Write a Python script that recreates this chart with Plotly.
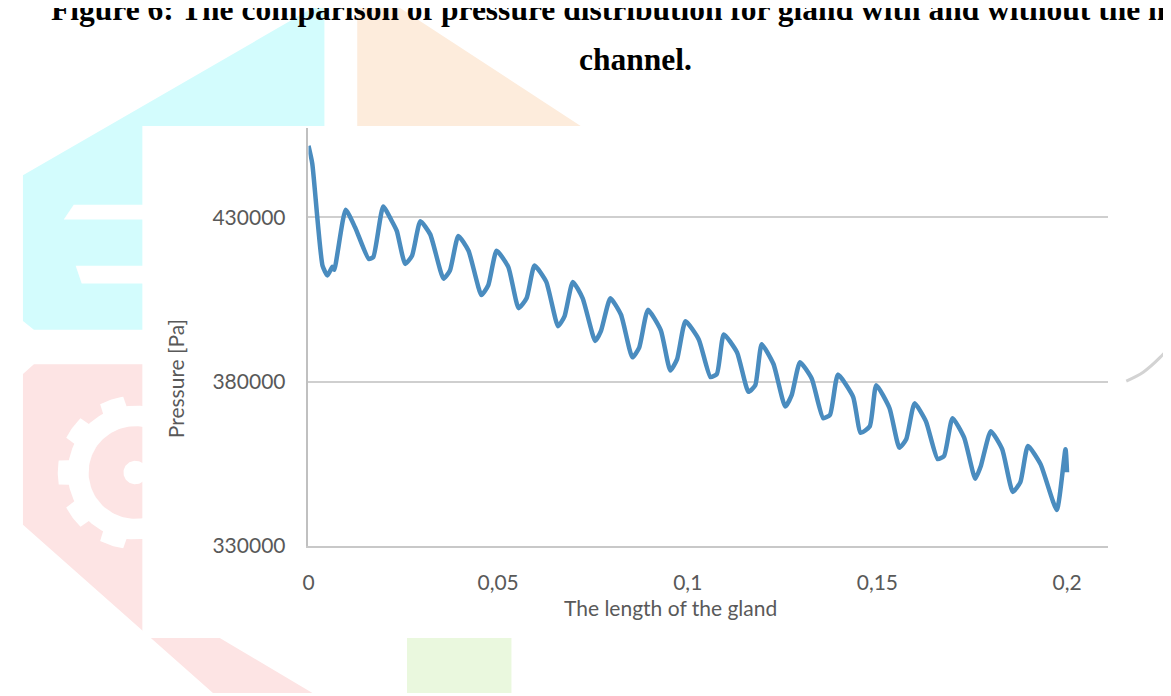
import math
import plotly.graph_objects as go

# ---------------- data ----------------
gland_length = [0, 0.001, 0.0037, 0.005, 0.0063, 0.0068, 0.0098, 0.0123, 0.0159, 0.0171,
                0.0197, 0.022, 0.0233, 0.0255, 0.0273, 0.0295, 0.0321, 0.0356, 0.0373, 0.0395,
                0.0422, 0.0456, 0.0474, 0.0496, 0.0527, 0.0554, 0.0575, 0.0596, 0.0627, 0.0658,
                0.0675, 0.0697, 0.0723, 0.0756, 0.0771, 0.0796, 0.0824, 0.0854, 0.0872, 0.0895,
                0.0929, 0.0954, 0.0972, 0.0994, 0.1029, 0.106, 0.1077, 0.1095, 0.113, 0.116,
                0.1178, 0.1195, 0.1226, 0.1257, 0.1274, 0.1296, 0.1327, 0.1357, 0.1375, 0.1396,
                0.1436, 0.1456, 0.148, 0.1497, 0.1532, 0.1558, 0.1576, 0.1598, 0.1628, 0.1659,
                0.1676, 0.1698, 0.1729, 0.1758, 0.1773, 0.1799, 0.1829, 0.1857, 0.1877, 0.1897,
                0.193, 0.1973, 0.1996, 0.2]
pressure = [451700, 446300, 415270, 412280, 414880, 413980, 432250, 426860, 417280, 417880,
            433230, 428740, 425750, 415780, 418260, 428740, 424760, 411290, 413770, 424250,
            419760, 406290, 409280, 419760, 414790, 402310, 405300, 415270, 410300, 396830,
            399820, 410300, 405300, 392340, 395330, 405300, 400300, 387340, 390330, 401800,
            395570, 383350, 386830, 398320, 392810, 381350, 382340, 394310, 388830, 376860,
            378860, 391320, 385330, 372370, 375870, 385840, 380840, 368860, 369880, 382100,
            375360, 364370, 366380, 378860, 371860, 359880, 362400, 373350, 367870, 356410,
            357400, 368860, 362870, 350420, 354400, 364880, 359400, 346410, 349400, 360390,
            354910, 340930, 359400, 352400]

x_tickvals = [0, 0.05, 0.1, 0.15, 0.2]
x_ticktext = ["0", "0,05", "0,1", "0,15", "0,2"]
y_tickvals = [330000, 380000, 430000]
y_ticktext = ["330000", "380000", "430000"]

title_line1 = "Figure 6: The comparison of pressure distribution for gland with and without the m"
title_line2 = "channel."
x_title = "The length of the gland"
y_title = "Pressure [Pa]"

# ---------------- page geometry (pixels) ----------------
W, H = 1171, 696
PLOT_L, PLOT_R, PLOT_T, PLOT_B = 296, 1100, 122, 546.5

AXIS_FONT = dict(family="Lato, 'Open Sans', sans-serif", size=21, color="#595959")
TITLE_FONT = dict(family="Liberation Serif, 'Times New Roman', serif", size=31.5, color="black")

fig = go.Figure()


def deco(xs, ys, color):
    """decorative filled polygon on the full-page background axes (pixel units)"""
    fig.add_trace(go.Scatter(x=xs, y=ys, mode="lines", fill="toself", fillcolor=color,
                             line=dict(width=0, color=color), hoverinfo="skip",
                             showlegend=False, xaxis="x", yaxis="y"))


def gear(cx, cy, r_out, r_in, teeth, n=240):
    xs, ys = [], []
    for i in range(n + 1):
        a = 2 * math.pi * i / n
        r = r_out if math.cos(teeth * a) > -0.2 else r_in
        xs.append(cx + r * math.cos(a))
        ys.append(cy + r * math.sin(a))
    return xs, ys


def disk(cx, cy, r, n=120):
    return ([cx + r * math.cos(2 * math.pi * i / n) for i in range(n + 1)],
            [cy + r * math.sin(2 * math.pi * i / n) for i in range(n + 1)])


# ---- faint logo watermark behind the chart ----
CYAN, PEACH, PINK, GREEN = "#d3fcfd", "#fdecdc", "#fde4e4", "#eaf8de"
deco([9, 300, 312, 312, 140, 140, 20, 9], [170, 0, 0, 130, 130, 327, 327, 318], CYAN)
deco([60, 140, 140, 50], [200, 200, 215, 215], "white")
deco([62, 140, 140, 68], [262, 262, 280, 280], "white")
deco([345, 388, 585, 345], [0, 0, 130, 130], PEACH)
deco([9, 20, 140, 140, 300, 200, 9], [372, 362, 362, 600, 696, 696, 525], PINK)
gx, gy = gear(122, 472, 78, 68, 10)
deco(gx, gy, "white")
dx, dy = disk(122, 472, 47)
deco(dx, dy, PINK)
dx, dy = disk(122, 472, 12)
deco(dx, dy, "white")
deco([395, 500, 500, 395], [640, 640, 696, 696], GREEN)
# white chart card
deco([129, 1108, 1108, 129], [120, 120, 640, 640], "white")
# faint grey arc at the right edge
fig.add_trace(go.Scatter(x=[1118, 1135, 1152, 1171], y=[379, 370, 355, 333], mode="lines",
                         line=dict(color="#d3d3d3", width=3, shape="spline"),
                         hoverinfo="skip", showlegend=False, xaxis="x", yaxis="y"))

# ---- the data line ----
fig.add_trace(go.Scatter(
    x=gland_length, y=pressure, mode="lines",
    line=dict(color="#4a8cbf", width=4.5, shape="spline", smoothing=0.5),
    showlegend=False, hoverinfo="skip", xaxis="x2", yaxis="y2"))

annotations = [
    dict(text=f"<b>{title_line1}</b>", x=35, y=2, xref="x", yref="y",
         xanchor="left", yanchor="middle", showarrow=False, font=TITLE_FONT),
    dict(text=f"<b>{title_line2}</b>", x=566, y=52, xref="x", yref="y",
         xanchor="left", yanchor="middle", showarrow=False, font=TITLE_FONT),
    dict(text=x_title, x=660, y=609, xref="x", yref="y",
         xanchor="center", yanchor="middle", showarrow=False, font=AXIS_FONT),
    dict(text=y_title, x=162, y=377, xref="x", yref="y",
         xanchor="center", yanchor="middle", showarrow=False, textangle=-90, font=AXIS_FONT),
]

fig.update_layout(
    width=W, height=H,
    margin=dict(l=0, r=0, t=0, b=0, pad=0),
    paper_bgcolor="white", plot_bgcolor="rgba(0,0,0,0)",
    annotations=annotations, showlegend=False,
    xaxis=dict(domain=[0, 1], range=[0, W], visible=False, fixedrange=True),
    yaxis=dict(domain=[0, 1], range=[H, 0], visible=False, fixedrange=True),
    xaxis2=dict(domain=[PLOT_L / W, PLOT_R / W], anchor="y2",
                range=[0, 0.2109], tickvals=x_tickvals, ticktext=x_ticktext,
                showgrid=False, zeroline=False, showline=True, linecolor="#c8c8c8", linewidth=2,
                ticks="", tickfont=AXIS_FONT, ticklabelstandoff=17),
    yaxis2=dict(domain=[(H - PLOT_B) / H, (H - PLOT_T) / H], anchor="x2",
                range=[330000, 457100], tickvals=y_tickvals, ticktext=y_ticktext,
                showgrid=True, gridcolor="#cfcfcf", gridwidth=2, zeroline=False,
                showline=True, linecolor="#c0c0c0", linewidth=1.5,
                ticks="", tickfont=AXIS_FONT, ticklabelstandoff=17),
)

fig.write_html("out.html")
